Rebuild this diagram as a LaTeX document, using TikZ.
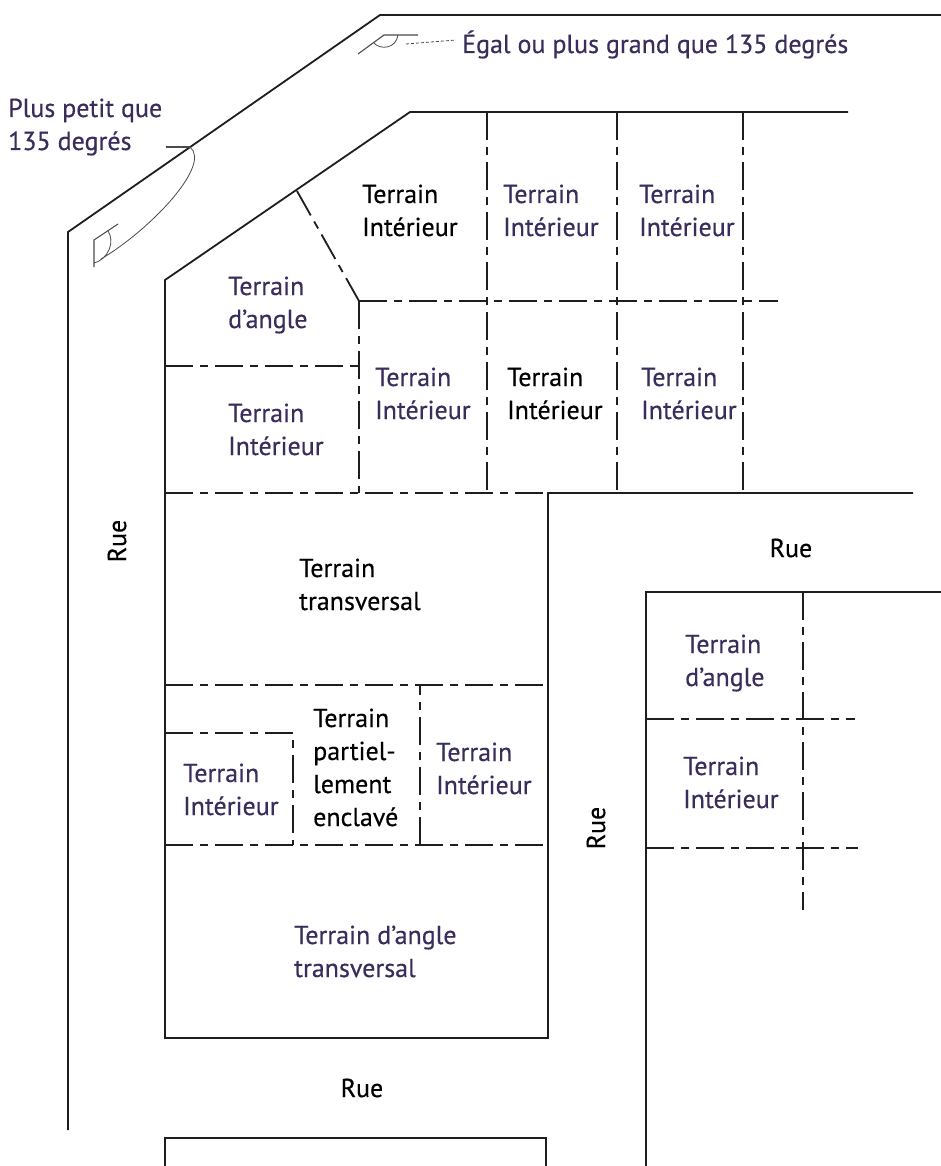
\documentclass[tikz,border=0pt]{standalone}
\usepackage{fontspec}
\setmainfont{PT Sans}
\newfontfamily\lblfont{PT Sans}[FakeBold=0.4]
\definecolor{labc}{RGB}{58,45,92}
\definecolor{inkc}{RGB}{30,30,30}
\begin{document}
\begin{tikzpicture}[x=1pt,y=-1pt,
  road/.style={line width=1.8pt, draw=inkc},
  lotline/.style={line width=1.8pt, draw=inkc, dash pattern=on 28pt off 7pt on 8pt off 7pt},
  thin/.style={line width=0.8pt, draw=inkc!80},
  lbl/.style={font=\lblfont\fontsize{26}{33}\selectfont, align=left, anchor=base west, inner sep=0pt, text=labc},
  blk/.style={lbl, text=black},
  rue/.style={font=\lblfont\fontsize{26}{30}\selectfont, inner sep=0pt, text=black}
]
\useasboundingbox (0,0) rectangle (941,1166);
\fill[white] (0,0) rectangle (941,1166);

% outer road boundary
\draw[road] (68,1130) -- (68,232) -- (380,15) -- (941,15);
% upper block outline
\draw[road] (848,112) -- (410,112) -- (165,280) -- (165,1038) -- (548,1038) -- (548,493) -- (913,493);
% bottom block
\draw[road] (165,1166) -- (165,1138) -- (546,1138) -- (546,1166);
% right block
\draw[road] (646,1166) -- (646,592) -- (941,592);

% lot lines, upper block
\draw[lotline] (297,191) -- (359,301);
\draw[lotline] (359,301) -- (778,301);
\draw[lotline] (487,112) -- (487,493);
\draw[lotline] (617,112) -- (617,493);
\draw[lotline] (743,112) -- (743,493);
\draw[lotline] (359,301) -- (359,493);
\draw[lotline] (165,366) -- (359,366);
\draw[lotline] (165,493) -- (548,493);
% lot lines, lower block
\draw[lotline] (165,685) -- (548,685);
\draw[lotline] (165,845) -- (548,845);
\draw[lotline] (165,733) -- (293,733) -- (293,845);
\draw[lotline] (420,845) -- (420,685);
% lot lines, right block
\draw[lotline] (803,592) -- (803,910);
\draw[lotline] (646,719) -- (855,719);
\draw[lotline] (646,848) -- (858,848);

% angle marker >= 135
\coordinate (va) at (384,35);
\draw[thin, line width=1.1pt] (358,54) -- (va) -- (418,35);
\draw[thin] (374,43) .. controls (380,50) and (396,49) .. (398,35);
\draw[thin, dash pattern=on 3pt off 2pt] (406,44) -- (456,40);
\node[lbl] (egal) at (462,53) {Égal ou plus grand que 135 degrés};

% angle marker < 135
\coordinate (vb) at (94,240);
\draw[thin, line width=1.1pt] (118,224) -- (vb) -- (94,267);
\draw[thin] (108,231) .. controls (115,241) and (109,259) .. (94,263);
\draw[thin] (101,259) .. controls (150,230) and (212,165) .. (190,147);
\draw[thin, line width=1.1pt] (166,147) -- (190,147);
\node[lbl] (petit) at (8,150) {Plus petit que\\135 degrés};

% labels, upper block
\node[blk] (t1) at (362,236) {Terrain\\Intérieur};
\node[lbl] (t2) at (503,236) {Terrain\\Intérieur};
\node[lbl] (t3) at (639,236) {Terrain\\Intérieur};
\node[lbl] (ta) at (228,328) {Terrain\\d’angle};
\node[lbl] (t4) at (375,419) {Terrain\\Intérieur};
\node[blk] (t5) at (507,419) {Terrain\\Intérieur};
\node[lbl] (t6) at (641,419) {Terrain\\Intérieur};
\node[lbl] (t7) at (228,455) {Terrain\\Intérieur};
% labels, lower block
\node[blk] (tt) at (299,610) {Terrain\\transversal};
\node[blk] (tp) at (313,826) {Terrain\\partiel-\\lement\\enclavé};
\node[lbl] (t8) at (183,815) {Terrain\\Intérieur};
\node[lbl] (t9) at (436,794) {Terrain\\Intérieur};
\node[lbl] (tat) at (294,977) {Terrain d’angle\\transversal};
% labels, right block
\node[lbl] (tb) at (685,686) {Terrain\\d’angle};
\node[lbl] (t10) at (683,808) {Terrain\\Intérieur};

% streets
\node[rue, rotate=90] (rue1) at (117,541) {Rue};
\node[rue] (rue2) at (791,548) {Rue};
\node[rue, rotate=90] (rue3) at (596,828) {Rue};
\node[rue] (rue4) at (362,1088) {Rue};
\end{tikzpicture}
\end{document}
